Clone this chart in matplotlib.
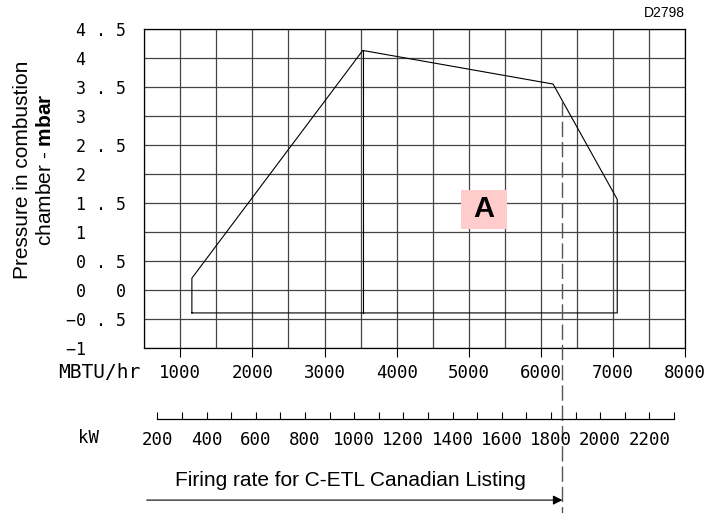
import matplotlib.pyplot as plt
import numpy as np
from matplotlib.patches import Rectangle

plt.rcParams['mathtext.fontset'] = 'custom'
plt.rcParams['mathtext.rm'] = 'Liberation Sans'
plt.rcParams['mathtext.bf'] = 'Liberation Sans:bold'

# working field envelope (MBTU/hr vs mbar)
env_mbtu = [1160, 1160, 3530, 6170, 7060, 7060, 1160]
env_mbar = [-0.4, 0.2, 4.13, 3.55, 1.56, -0.4, -0.4]
# inner vertical line under the peak
split_mbtu = [3530, 3530]
split_mbar = [4.13, -0.4]

# C-ETL firing rate limit
limit_mbtu = 6300
limit_top = 3.26

x_ticks = [1000, 2000, 3000, 4000, 5000, 6000, 7000, 8000]
y_ticks = [4.5, 4, 3.5, 3, 2.5, 2, 1.5, 1, 0.5, 0, -0.5, -1]
y_labels = ["4 . 5", "4    ", "3 . 5", "3    ", "2 . 5", "2    ", "1 . 5",
            "1    ", "0 . 5", "0   0", "\u22120 . 5", "\u22121    "]
kw_major = [200, 400, 600, 800, 1000, 1200, 1400, 1600, 1800, 2000, 2200]
kw_minor = [300, 500, 700, 900, 1100, 1300, 1500, 1700, 1900, 2100, 2300]
KW_TO_MBTU = 3.412

mono = 'DejaVu Sans Mono'
sans = 'Liberation Sans'

fig = plt.figure(figsize=(7.26, 5.13), dpi=100)
ax = fig.add_axes([144.3/726, 1-347.7/513, (685-144.3)/726, (347.7-29)/513])

ax.set_xlim(500, 8000)
ax.set_ylim(-1, 4.5)
ax.set_xticks(x_ticks)
ax.set_xticks(np.arange(500, 8001, 500), minor=True)
ax.set_yticks(y_ticks)
ax.set_yticks(y_ticks, minor=True)
ax.set_xticklabels([str(v) for v in x_ticks], family=mono, fontsize=12.5)
ax.set_yticklabels(y_labels, family=mono, fontsize=12)
ax.tick_params(axis='x', which='major', direction='out', length=6.5, width=0.8, pad=5)
ax.tick_params(axis='x', which='minor', length=0)
ax.tick_params(axis='y', which='both', length=0, pad=13)
ax.grid(True, which='both', color='#444444', lw=0.9)
for s in ax.spines.values():
    s.set_linewidth(0.9)

ax.plot(env_mbtu, env_mbar, color='black', lw=0.8, zorder=3)
ax.plot(split_mbtu, split_mbar, color='black', lw=0.8, zorder=3)

# dashed limit line running down through the scales
ax.plot([limit_mbtu, limit_mbtu], [limit_top, -4.0], color='#555555', lw=1.0,
        linestyle=(0, (11, 3.6)), clip_on=False, zorder=4)

ax.add_patch(Rectangle((4890, 1.05), 640, 0.67, facecolor='#ffcccc',
                       edgecolor='none', zorder=2.5))
ax.text(5210, 1.39, "A", family=sans, fontweight='bold', fontsize=21,
        ha='center', va='center', zorder=3)

# kW scale
ax2 = fig.add_axes([144.3/726, 1-418.5/513, (685-144.3)/726, 0.0001])
ax2.set_xlim(500, 8000)
ax2.set_yticks([])
for k in ['top', 'left', 'right']:
    ax2.spines[k].set_visible(False)
ax2.spines['bottom'].set_bounds(kw_major[0]*KW_TO_MBTU, kw_minor[-1]*KW_TO_MBTU)
ax2.spines['bottom'].set_linewidth(0.9)
ax2.set_xticks([v*KW_TO_MBTU for v in kw_major])
ax2.set_xticks([v*KW_TO_MBTU for v in kw_minor], minor=True)
ax2.set_xticklabels([str(v) for v in kw_major], family=mono, fontsize=12.5)
ax2.tick_params(axis='x', which='both', direction='in', length=5, width=0.8, pad=9)
ax2.patch.set_visible(False)

fig.text(140/726, 1-372/513, "MBTU/hr", family=mono, fontsize=14, ha='right', va='center')
fig.text(88/726, 1-438/513, "kW", family=mono, fontsize=12.5, ha='center', va='center')
fig.text(685/726, 1-13/513, "D2798", family=sans, fontsize=10, ha='right', va='center')
fig.text(34/726, 1-170/513, "Pressure in combustion\nchamber - $\\mathbf{mbar}$",
         family=sans, fontsize=15, rotation=90, ha='center', va='center',
         multialignment='center', linespacing=1.25)

ax.annotate("", xy=(limit_mbtu, -3.63), xytext=(533, -3.63),
            arrowprops=dict(arrowstyle='-|>', color='black', lw=0.8, mutation_scale=14,
                            shrinkA=0, shrinkB=0),
            annotation_clip=False)
ax.text(3365, -3.30, "Firing rate for C-ETL Canadian Listing", family=sans, fontsize=15,
        ha='center', va='center', clip_on=False)

fig.savefig("out.png", dpi=100)
